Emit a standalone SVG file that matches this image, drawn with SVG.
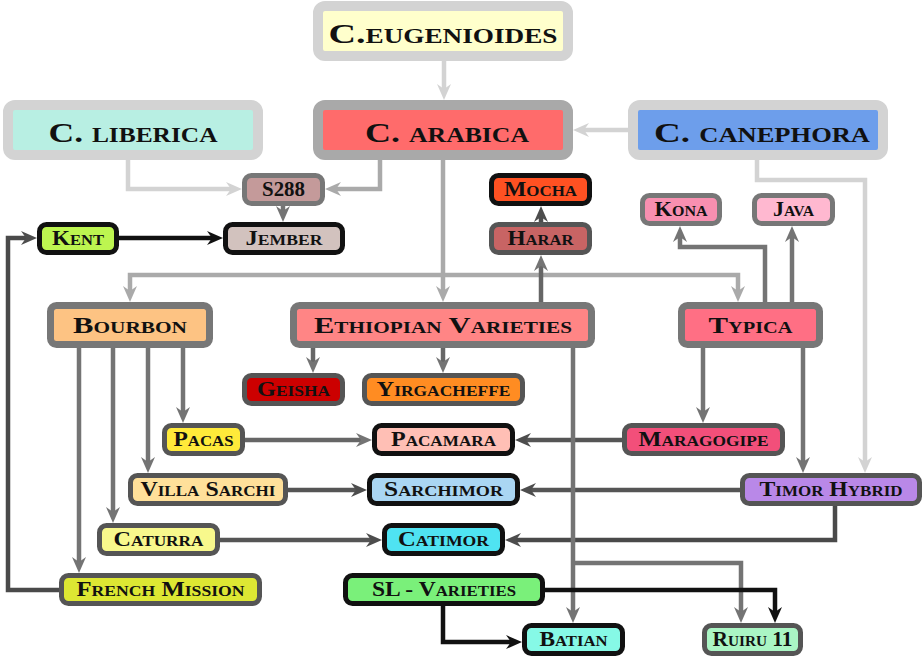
<svg xmlns="http://www.w3.org/2000/svg" width="924" height="658" viewBox="0 0 924 658">
<style>
text{font-family:"Liberation Serif","DejaVu Serif",serif;font-weight:bold;font-variant:small-caps;fill:#111;text-anchor:middle}
.t{font-size:28px}.m{font-size:23px}.s{font-size:21px}
.big{stroke-width:10}.mid{stroke-width:7;stroke:#777}.sm{stroke-width:5}
.lg{stroke:#d3d3d3}.ag{stroke:#a9a9a9}.g7{stroke:#777}.g5{stroke:#555}.bk{stroke:#111}
.e{fill:none;stroke-width:4.5}
</style>
<defs>
<marker id="aL" markerUnits="userSpaceOnUse" markerWidth="16" markerHeight="16" viewBox="0 0 16 16" refX="5" refY="8" orient="auto"><path d="M0,1 L16,8 L0,15 L5,8 Z" fill="#d3d3d3"/></marker>
<marker id="aM" markerUnits="userSpaceOnUse" markerWidth="16" markerHeight="16" viewBox="0 0 16 16" refX="5" refY="8" orient="auto"><path d="M0,1 L16,8 L0,15 L5,8 Z" fill="#aaaaaa"/></marker>
<marker id="aG" markerUnits="userSpaceOnUse" markerWidth="16" markerHeight="16" viewBox="0 0 16 16" refX="5" refY="8" orient="auto"><path d="M0,1 L16,8 L0,15 L5,8 Z" fill="#747474"/></marker>
<marker id="aD" markerUnits="userSpaceOnUse" markerWidth="16" markerHeight="16" viewBox="0 0 16 16" refX="5" refY="8" orient="auto"><path d="M0,1 L16,8 L0,15 L5,8 Z" fill="#4d4d4d"/></marker>
<marker id="aK" markerUnits="userSpaceOnUse" markerWidth="16" markerHeight="16" viewBox="0 0 16 16" refX="5" refY="8" orient="auto"><path d="M0,1 L16,8 L0,15 L5,8 Z" fill="#111"/></marker>
</defs>
<g id="connectors">
<path class="e" stroke="#d3d3d3" marker-end="url(#aL)" d="M444,61 V89"/>
<path class="e" stroke="#d3d3d3" marker-end="url(#aL)" d="M628,130 H584"/>
<path class="e" stroke="#d3d3d3" marker-end="url(#aL)" d="M128,160 V189 H231"/>
<path class="e" stroke="#d3d3d3" marker-end="url(#aL)" d="M757,160 V180 H865 V462"/>
<path class="e" stroke="#aaaaaa" marker-end="url(#aM)" d="M380,160 V189 H336"/>
<path class="e" stroke="#aaaaaa" marker-end="url(#aM)" d="M443,160 V291"/>
<path class="e" stroke="#aaaaaa" marker-end="url(#aM)" d="M443,275 H130 V291"/>
<path class="e" stroke="#aaaaaa" marker-end="url(#aM)" d="M443,275 H738 V291"/>
<path class="e" stroke="#747474" marker-end="url(#aG)" d="M283,206 V211"/>
<path class="e" stroke="#111" marker-end="url(#aK)" d="M119,238 H212"/>
<path class="e" stroke="#4a4a4a" marker-end="url(#aD)" d="M59,590 H8 V238 H26"/>
<path class="e" stroke="#4d4d4d" marker-end="url(#aD)" d="M541,222 V217"/>
<path class="e" stroke="#666" marker-end="url(#aG)" d="M541,302 V266"/>
<path class="e" stroke="#747474" marker-end="url(#aG)" d="M765,302 V247 H680 V237"/>
<path class="e" stroke="#747474" marker-end="url(#aG)" d="M792,302 V237"/>
<path class="e" stroke="#666" marker-end="url(#aG)" d="M313,348 V362"/>
<path class="e" stroke="#666" marker-end="url(#aG)" d="M443,348 V362"/>
<path class="e" stroke="#747474" marker-end="url(#aG)" d="M183,348 V412"/>
<path class="e" stroke="#747474" marker-end="url(#aG)" d="M148,348 V462"/>
<path class="e" stroke="#747474" marker-end="url(#aG)" d="M113,348 V512"/>
<path class="e" stroke="#747474" marker-end="url(#aG)" d="M79,348 V562"/>
<path class="e" stroke="#666" marker-end="url(#aG)" d="M245,440 H361"/>
<path class="e" stroke="#555" marker-end="url(#aD)" d="M622,440 H526"/>
<path class="e" stroke="#747474" marker-end="url(#aG)" d="M703,348 V412"/>
<path class="e" stroke="#747474" marker-end="url(#aG)" d="M803,348 V462"/>
<path class="e" stroke="#555" marker-end="url(#aD)" d="M288,490 H356"/>
<path class="e" stroke="#555" marker-end="url(#aD)" d="M740,490 H531"/>
<path class="e" stroke="#555" marker-end="url(#aD)" d="M220,540 H371"/>
<path class="e" stroke="#4a4a4a" marker-end="url(#aD)" d="M835,506 V540 H516"/>
<path class="e" stroke="#747474" marker-end="url(#aG)" d="M573,348 V612"/>
<path class="e" stroke="#747474" marker-end="url(#aG)" d="M573,563 H741 V612"/>
<path class="e" stroke="#111" marker-end="url(#aK)" d="M545,590 H775 V612"/>
<path class="e" stroke="#111" marker-end="url(#aK)" d="M443,606 V642 H511"/>
</g>
<g id="eugenioides"><rect class="big lg" x="318" y="6" width="250" height="50" rx="7" fill="#ffffcc"/><text class="t" x="443" y="43" textLength="229" lengthAdjust="spacingAndGlyphs">C.eugenioides</text></g>
<g id="liberica"><rect class="big lg" x="8" y="105" width="250" height="50" rx="7" fill="#b8efe3"/><text class="t" x="133" y="142" textLength="169" lengthAdjust="spacingAndGlyphs">C. liberica</text></g>
<g id="arabica"><rect class="big ag" x="318" y="105" width="250" height="50" rx="7" fill="#ff6b6b"/><text class="t" x="447" y="142" textLength="164" lengthAdjust="spacingAndGlyphs">C. arabica</text></g>
<g id="canephora"><rect class="big lg" x="633" y="105" width="250" height="50" rx="7" fill="#6d9eeb"/><text class="t" x="762" y="142" textLength="216" lengthAdjust="spacingAndGlyphs">C. canephora</text></g>
<g id="bourbon"><rect class="mid" x="50.5" y="305.5" width="159" height="39" rx="6" fill="#fdc383"/><text class="m" x="130" y="333" textLength="114" lengthAdjust="spacingAndGlyphs">Bourbon</text></g>
<g id="ethiopian"><rect class="mid" x="293.5" y="305.5" width="298" height="39" rx="6" fill="#ff8585"/><text class="m" x="443" y="333" textLength="258" lengthAdjust="spacingAndGlyphs">Ethiopian Varieties</text></g>
<g id="typica"><rect class="mid" x="681.5" y="305.5" width="138" height="39" rx="6" fill="#ff6f84"/><text class="m" x="750.5" y="333" textLength="84" lengthAdjust="spacingAndGlyphs">Typica</text></g>
<g id="s288"><rect class="sm g7" x="244.5" y="175.5" width="78" height="28" rx="7" fill="#c49a9a"/><text class="s" x="283.5" y="196" textLength="43" lengthAdjust="spacingAndGlyphs">S288</text></g>
<g id="kent"><rect class="sm bk" x="39.5" y="224.5" width="77" height="28" rx="7" fill="#bdf550"/><text class="s" x="78" y="245" textLength="52" lengthAdjust="spacingAndGlyphs">Kent</text></g>
<g id="jember"><rect class="sm bk" x="225.5" y="224.5" width="117" height="28" rx="7" fill="#d2c2be"/><text class="s" x="284" y="245" textLength="77" lengthAdjust="spacingAndGlyphs">Jember</text></g>
<g id="mocha"><rect class="sm bk" x="491.5" y="175.5" width="98" height="28" rx="7" fill="#ff5122"/><text class="s" x="540.5" y="196" textLength="73" lengthAdjust="spacingAndGlyphs">Mocha</text></g>
<g id="harar"><rect class="sm g5" x="491.5" y="224.5" width="98" height="28" rx="7" fill="#c86464"/><text class="s" x="540.5" y="245" textLength="66" lengthAdjust="spacingAndGlyphs">Harar</text></g>
<g id="kona"><rect class="sm g7" x="642.5" y="195.5" width="77" height="28" rx="7" fill="#f88fb0"/><text class="s" x="681" y="216" textLength="53" lengthAdjust="spacingAndGlyphs">Kona</text></g>
<g id="java"><rect class="sm g7" x="754.5" y="195.5" width="78" height="28" rx="7" fill="#ffb8d0"/><text class="s" x="793.5" y="216" textLength="41" lengthAdjust="spacingAndGlyphs">Java</text></g>
<g id="geisha"><rect class="sm g5" x="244.5" y="375.5" width="98" height="28" rx="7" fill="#cc0000"/><text class="s" x="293.5" y="396" textLength="73" lengthAdjust="spacingAndGlyphs">Geisha</text></g>
<g id="yirgacheffe"><rect class="sm g5" x="364.5" y="375.5" width="158" height="28" rx="7" fill="#ff8c22"/><text class="s" x="443.5" y="396" textLength="134" lengthAdjust="spacingAndGlyphs">Yirgacheffe</text></g>
<g id="pacas"><rect class="sm g5" x="164.5" y="425.5" width="78" height="28" rx="7" fill="#ffea3a"/><text class="s" x="203.5" y="446" textLength="60" lengthAdjust="spacingAndGlyphs">Pacas</text></g>
<g id="pacamara"><rect class="sm bk" x="374.5" y="425.5" width="138" height="28" rx="7" fill="#ffbfb5"/><text class="s" x="443.5" y="446" textLength="105" lengthAdjust="spacingAndGlyphs">Pacamara</text></g>
<g id="maragogipe"><rect class="sm g5" x="624.5" y="425.5" width="158" height="28" rx="7" fill="#f24f7a"/><text class="s" x="703.5" y="446" textLength="130" lengthAdjust="spacingAndGlyphs">Maragogipe</text></g>
<g id="villasarchi"><rect class="sm g5" x="130.5" y="475.5" width="155" height="28" rx="7" fill="#ffe09a"/><text class="s" x="208" y="496" textLength="135" lengthAdjust="spacingAndGlyphs">Villa Sarchi</text></g>
<g id="sarchimor"><rect class="sm bk" x="369.5" y="475.5" width="148" height="28" rx="7" fill="#aad6f3"/><text class="s" x="443.5" y="496" textLength="119" lengthAdjust="spacingAndGlyphs">Sarchimor</text></g>
<g id="timorhybrid"><rect class="sm g5" x="742.5" y="475.5" width="177" height="28" rx="7" fill="#b988e8"/><text class="s" x="831" y="496" textLength="143" lengthAdjust="spacingAndGlyphs">Timor Hybrid</text></g>
<g id="caturra"><rect class="sm g5" x="99.5" y="525.5" width="118" height="28" rx="7" fill="#f8f88c"/><text class="s" x="158.5" y="546" textLength="90" lengthAdjust="spacingAndGlyphs">Caturra</text></g>
<g id="catimor"><rect class="sm bk" x="384.5" y="525.5" width="118" height="28" rx="7" fill="#4fe3f2"/><text class="s" x="443.5" y="546" textLength="91" lengthAdjust="spacingAndGlyphs">Catimor</text></g>
<g id="frenchmission"><rect class="sm g5" x="61.5" y="575.5" width="198" height="28" rx="7" fill="#dde733"/><text class="s" x="160.5" y="596" textLength="168" lengthAdjust="spacingAndGlyphs">French Mission</text></g>
<g id="slvarieties"><rect class="sm bk" x="345.5" y="575.5" width="197" height="28" rx="7" fill="#7af07a"/><text class="s" x="444" y="596" textLength="144" lengthAdjust="spacingAndGlyphs">SL - Varieties</text></g>
<g id="batian"><rect class="sm bk" x="524.5" y="625.5" width="98" height="28" rx="7" fill="#86f9e6"/><text class="s" x="573.5" y="646" textLength="68" lengthAdjust="spacingAndGlyphs">Batian</text></g>
<g id="ruiru11"><rect class="sm g5" x="704.5" y="625.5" width="96" height="28" rx="7" fill="#aaf5c4"/><text class="s" x="752.5" y="646" textLength="80" lengthAdjust="spacingAndGlyphs">Ruiru 11</text></g>
</svg>
